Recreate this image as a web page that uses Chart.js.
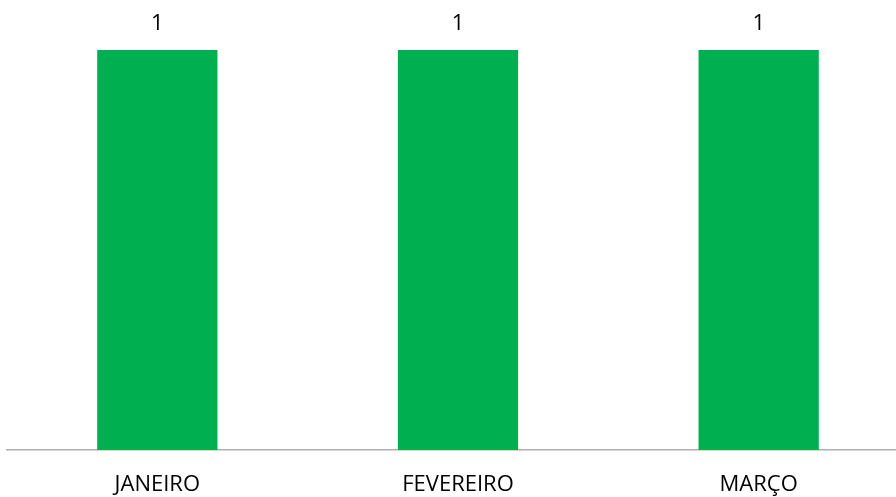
<!DOCTYPE html>
<html>
<head>
<meta charset="utf-8">
<script src="https://cdn.jsdelivr.net/npm/chart.js@4"></script>
<style>
    html, body { margin: 0; padding: 0; background: #fff; overflow: hidden; }
    #wrap { width: 909px; height: 497px; }
</style>
</head>
<body>
<div id="wrap"><canvas id="chart"></canvas></div>
<script>
const MONTHS = ['JANEIRO', 'FEVEREIRO', 'MARÇO'];
const VALUES = [1, 1, 1];

const BAR_GREEN = '#00B050';
const AXIS_GREY = '#B0B0B0';
const FONT = 'Open Sans';

// draws the value above each bar
const valueLabels = {
    id: 'valueLabels',
    afterDatasetsDraw(chart) {
        const ctx = chart.ctx;
        const meta = chart.getDatasetMeta(0);
        ctx.save();
        ctx.font = '22px "' + FONT + '"';
        ctx.fillStyle = '#000';
        ctx.textAlign = 'center';
        ctx.textBaseline = 'middle';
        meta.data.forEach(function (bar, i) {
            ctx.fillText(String(chart.data.datasets[0].data[i]), bar.x, bar.y - 26);
        });
        ctx.restore();
    }
};

const ctx = document.getElementById('chart').getContext('2d');
const myChart = new Chart(ctx, {
    type: 'bar',
    data: {
        labels: MONTHS,
        datasets: [{
            data: VALUES,
            backgroundColor: BAR_GREEN,
            borderWidth: 0,
            barPercentage: 0.4,
            categoryPercentage: 1
        }]
    },
    options: {
        responsive: true,
        maintainAspectRatio: false,
        animation: false,
        layout: {
            padding: {top: 50, left: 7, right: 0, bottom: 0}
        },
        plugins: {
            legend: {display: false},
            tooltip: {enabled: false}
        },
        scales: {
            x: {
                grid: {display: false, drawTicks: false, tickLength: 0},
                border: {display: true, color: AXIS_GREY, width: 1.5},
                ticks: {
                    color: '#000',
                    padding: 22,
                    maxRotation: 0,
                    font: {family: FONT, size: 22}
                },
                afterFit: function (scale) {
                    scale.height = 47;
                }
            },
            y: {
                display: false,
                min: 0,
                max: 1
            }
        }
    },
    plugins: [valueLabels]
});
</script>
</body>
</html>
